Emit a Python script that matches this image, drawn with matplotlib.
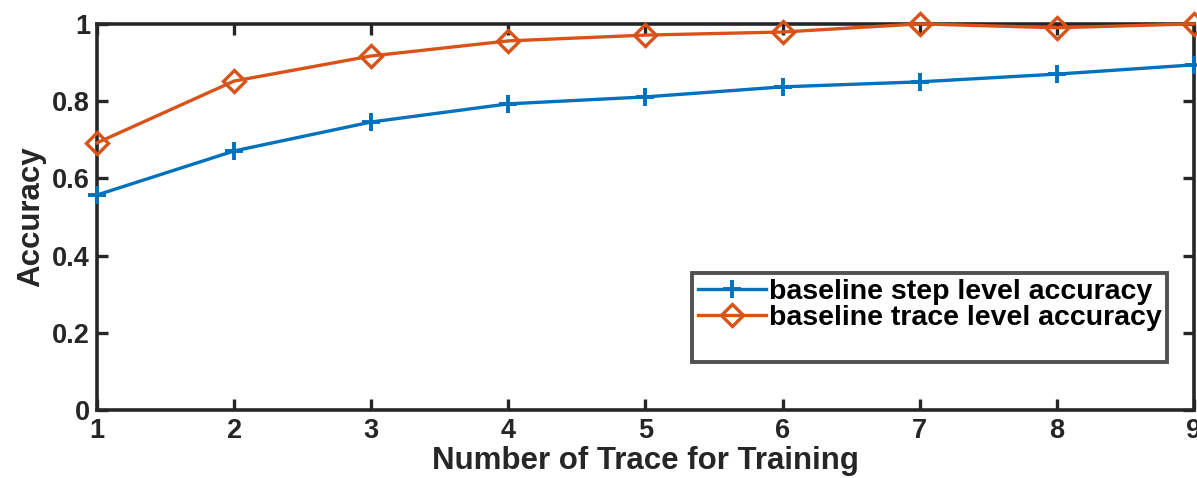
import matplotlib
matplotlib.use("Agg")
import matplotlib.pyplot as plt
from matplotlib.lines import Line2D

plt.rcParams['font.family'] = ['Liberation Sans', 'DejaVu Sans']
plt.rcParams['font.weight'] = 'bold'

traces = [1, 2, 3, 4, 5, 6, 7, 8, 9]
step_acc = [0.557, 0.671, 0.746, 0.793, 0.811, 0.837, 0.850, 0.870, 0.894]
trace_acc = [0.692, 0.852, 0.917, 0.956, 0.971, 0.979, 1.000, 0.990, 1.000]
y_ticks = [0, 0.2, 0.4, 0.6, 0.8, 1]
y_tick_labels = ['0', '0.2', '0.4', '0.6', '0.8', '1']

blue = '#0072BD'
orange = '#D95319'
ink = '#262626'

fig = plt.figure(figsize=(11.97, 4.78), dpi=100)
ax = fig.add_axes([0.081, 0.142, 0.9165, 0.808])

ax.plot(traces, step_acc, color=blue, lw=2.4, marker='+', ms=13, mew=2.8,
        label='baseline step level accuracy', clip_on=False, zorder=3)
ax.plot(traces, trace_acc, color=orange, lw=2.4, marker='D', ms=11, mew=2.4,
        mfc='none', label='baseline trace level accuracy', clip_on=False, zorder=3)

ax.set_xlim(1, 9)
ax.set_ylim(0, 1)
ax.set_xticks(traces)
ax.set_yticks(y_ticks)
ax.set_yticklabels(y_tick_labels)
ax.tick_params(direction='in', length=8, width=2.4, labelsize=19.5, top=True, right=True,
               colors=ink)
ax.tick_params(axis='x', pad=6)
ax.tick_params(axis='y', pad=5)
for lab in ax.get_xticklabels() + ax.get_yticklabels():
    lab.set_fontweight('bold')
for s in ax.spines.values():
    s.set_linewidth(2.6)
    s.set_color(ink)

ax.set_xlabel('Number of Trace for Training', fontsize=22.5, fontweight='bold',
              labelpad=1, color=ink)
ax.set_ylabel('Accuracy', fontsize=22.5, fontweight='bold', labelpad=4, color=ink)

handles, labels = ax.get_legend_handles_labels()
handles.append(Line2D([], [], color='none'))
labels.append(' ')
leg = ax.legend(handles, labels, loc='upper left', bbox_to_anchor=(0.578, 0.429),
                bbox_transform=fig.transFigure, fontsize=20.5, frameon=True, fancybox=False,
                handlelength=2.4, handletextpad=0.1, labelspacing=0.0,
                borderpad=0.2, borderaxespad=0)
leg.get_frame().set_edgecolor(ink)
leg.get_frame().set_linewidth(2.8)
for t in leg.get_texts():
    t.set_fontweight('bold')

fig.savefig('out.png', dpi=100)
